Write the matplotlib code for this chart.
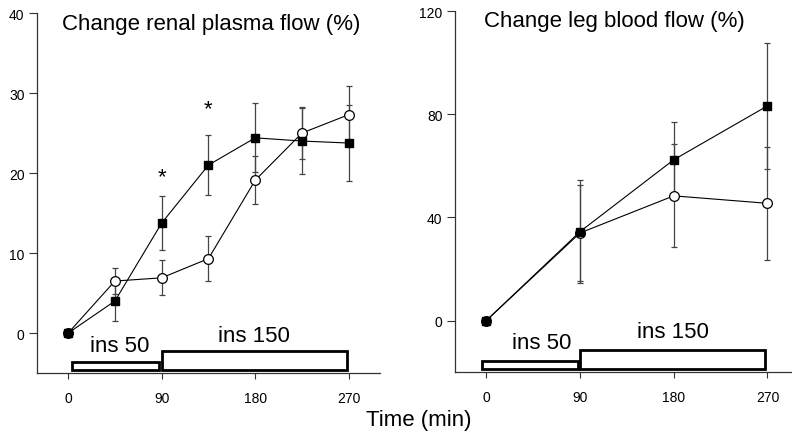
import numpy as np
import matplotlib
matplotlib.use("Agg")
import matplotlib.pyplot as plt
from matplotlib.patches import Rectangle

plt.rcParams['font.family'] = ['Liberation Sans', 'DejaVu Sans']

# renal plasma flow (%), left panel
t_renal = [0, 45, 90, 135, 180, 225, 270]
renal_filled = [0, 4.0, 13.75, 21.0, 24.4, 24.0, 23.75]
renal_filled_err = [0, 2.5, 3.4, 3.7, 4.3, 4.1, 4.75]
renal_open = [0, 6.5, 6.9, 9.3, 19.1, 25.0, 27.3]
renal_open_err = [0, 1.6, 2.2, 2.8, 3.0, 3.2, 3.6]
star_t = [90, 135]
star_y = [18.8, 27.4]

# leg blood flow (%), right panel
t_leg = [0, 90, 180, 270]
leg_filled = [0, 34.5, 62.4, 83.3]
leg_filled_err = [0, 20.0, 14.7, 24.5]
leg_open = [0, 34.0, 48.4, 45.5]
leg_open_err = [0, 18.5, 20.0, 21.8]

# insulin infusion boxes: (start, end, bottom, top)
renal_boxes = [(4, 87, -4.6, -3.6), (90, 268, -4.6, -2.2)]
leg_boxes = [(-4, 88, -18.6, -15.5), (90, 268, -18.6, -11.6)]
box_labels = ["ins 50", "ins 150"]

fig = plt.figure(figsize=(7.92, 4.39), dpi=100)
ax1 = fig.add_axes([0.0467, 0.148, 0.433, 0.820])
ax2 = fig.add_axes([0.5745, 0.150, 0.434, 0.822])

def style(ax, ylim, yticks):
    ax.set_xlim(-30, 300)
    ax.set_ylim(*ylim)
    ax.set_xticks([0, 90, 180, 270])
    ax.set_yticks(yticks)
    for s in ['top', 'right']:
        ax.spines[s].set_visible(False)
    for s in ['left', 'bottom']:
        ax.spines[s].set_linewidth(0.9)
        ax.spines[s].set_color('#333333')
    ax.tick_params(axis='y', length=6, width=0.8, pad=3, labelsize=10, color='#333333')
    ax.tick_params(axis='x', length=4, width=0.8, pad=9, labelsize=10, color='#333333')

def draw(ax, t, f, fe, o, oe):
    ax.errorbar(t, o, yerr=oe, fmt='none', ecolor='#444444', elinewidth=0.9,
                capsize=2.5, capthick=0.9, zorder=1)
    ax.errorbar(t, f, yerr=fe, fmt='none', ecolor='#444444', elinewidth=0.9,
                capsize=2.5, capthick=0.9, zorder=1)
    ax.plot(t, o, '-o', color='black', lw=0.8, mfc='white', mec='black',
            mew=0.9, ms=7, zorder=3)
    ax.plot(t, f, '-s', color='black', lw=0.8, mfc='black', mec='black',
            ms=6, zorder=4)

def boxes(ax, bxs, label_pos):
    for (a, b, lo, hi) in bxs:
        ax.add_patch(Rectangle((a, lo), b - a, hi - lo, facecolor='white',
                               edgecolor='black', lw=2, zorder=2))
    for lab, (x, y) in zip(box_labels, label_pos):
        ax.text(x, y, lab, fontsize=16, ha='center', va='center')

style(ax1, (-5, 40), [0, 10, 20, 30, 40])
draw(ax1, t_renal, renal_filled, renal_filled_err, renal_open, renal_open_err)
boxes(ax1, renal_boxes, [(50, -1.5), (179, -0.3)])
for x, y in zip(star_t, star_y):
    ax1.text(x, y, '*', fontsize=16, ha='center', va='baseline')
ax1.text(0.507, 0.956, 'Change renal plasma flow (%)', transform=ax1.transAxes,
         fontsize=16, ha='center', va='baseline')

style(ax2, (-20, 120), [0, 40, 80, 120])
draw(ax2, t_leg, leg_filled, leg_filled_err, leg_open, leg_open_err)
boxes(ax2, leg_boxes, [(53, -8.5), (179, -4.3)])
ax2.text(0.463, 0.958, 'Change leg blood flow (%)', transform=ax2.transAxes,
         fontsize=16, ha='center', va='baseline')

fig.text(419 / 792, 1 - 421 / 439, 'Time (min)', fontsize=16, ha='center', va='center')

fig.savefig('out.png', dpi=100)
